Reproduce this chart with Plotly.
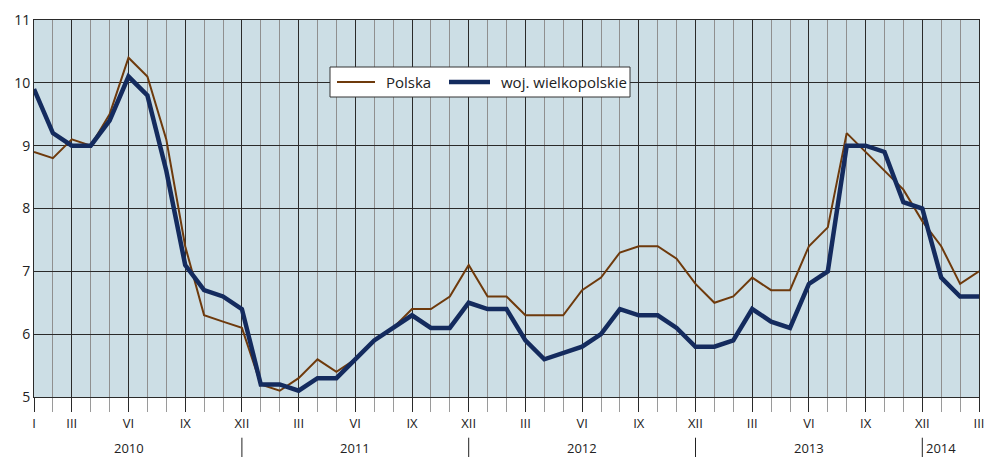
import plotly.graph_objects as go

months = list(range(51))  # I 2010 .. III 2014

polska = [8.9, 8.8, 9.1, 9.0, 9.5, 10.4, 10.1, 9.1, 7.4, 6.3, 6.2, 6.1,
          5.2, 5.1, 5.3, 5.6, 5.4, 5.6, 5.9, 6.1, 6.4, 6.4, 6.6, 7.1,
          6.6, 6.6, 6.3, 6.3, 6.3, 6.7, 6.9, 7.3, 7.4, 7.4, 7.2, 6.8,
          6.5, 6.6, 6.9, 6.7, 6.7, 7.4, 7.7, 9.2, 8.9, 8.6, 8.3, 7.8,
          7.4, 6.8, 7.0]

wielkopolskie = [9.9, 9.2, 9.0, 9.0, 9.4, 10.1, 9.8, 8.6, 7.1, 6.7, 6.6, 6.4,
                 5.2, 5.2, 5.1, 5.3, 5.3, 5.6, 5.9, 6.1, 6.3, 6.1, 6.1, 6.5,
                 6.4, 6.4, 5.9, 5.6, 5.7, 5.8, 6.0, 6.4, 6.3, 6.3, 6.1, 5.8,
                 5.8, 5.9, 6.4, 6.2, 6.1, 6.8, 7.0, 9.0, 9.0, 8.9, 8.1, 8.0,
                 6.9, 6.6, 6.6]

tick_vals = [0, 2, 5, 8, 11, 14, 17, 20, 23, 26, 29, 32, 35, 38, 41, 44, 47, 50]
tick_text = ["I", "III", "VI", "IX", "XII", "III", "VI", "IX", "XII",
             "III", "VI", "IX", "XII", "III", "VI", "IX", "XII", "III"]

years = ["2010", "2011", "2012", "2013", "2014"]
year_pos = [5, 17, 29, 41, 48]
year_breaks = [11, 23, 35, 47]

series_names = ["Polska", "woj. wielkopolskie"]
BROWN = "#6E3A0C"
NAVY = "#142B5E"
FONT = "Open Sans"

fig = go.Figure()
fig.add_trace(go.Scatter(x=months, y=polska, mode="lines", name=series_names[0],
                         line=dict(color=BROWN, width=2)))
fig.add_trace(go.Scatter(x=months, y=wielkopolskie, mode="lines", name=series_names[1],
                         line=dict(color=NAVY, width=4.5)))

shapes = []
for b in year_breaks:
    shapes.append(dict(type="line", xref="x", yref="paper", x0=b, x1=b,
                       y0=-0.108, y1=-0.165, line=dict(color="#222", width=1)))

annotations = []
for y, p in zip(years, year_pos):
    annotations.append(dict(text=y, x=p, y=-0.135, xref="x", yref="paper",
                            showarrow=False, yanchor="middle",
                            font=dict(family=FONT, size=13, color="#222")))

# legend box (drawn manually to match the reference spacing)
W, H, L, B = 945.0, 377.0, 34.0, 397.0
def px(x):
    return (x - L) / W
def py(y):
    return (B - y) / H

shapes.append(dict(type="rect", xref="paper", yref="paper",
                   x0=px(330), x1=px(630), y0=py(97), y1=py(67),
                   fillcolor="white", line=dict(color="#333", width=1), layer="above"))
shapes.append(dict(type="line", xref="paper", yref="paper",
                   x0=px(337), x1=px(375), y0=py(82), y1=py(82),
                   line=dict(color=BROWN, width=2), layer="above"))
shapes.append(dict(type="line", xref="paper", yref="paper",
                   x0=px(449), x1=px(490), y0=py(82), y1=py(82),
                   line=dict(color=NAVY, width=4.5), layer="above"))
annotations.append(dict(text=series_names[0], xref="paper", yref="paper",
                        x=px(384), y=py(82), xanchor="left", yanchor="middle",
                        showarrow=False, font=dict(family=FONT, size=15, color="#222")))
annotations.append(dict(text=series_names[1], xref="paper", yref="paper",
                        x=px(499), y=py(82), xanchor="left", yanchor="middle",
                        showarrow=False, font=dict(family=FONT, size=15, color="#222")))

fig.update_layout(
    width=989, height=457,
    margin=dict(l=34, r=10, t=20, b=60, autoexpand=False),
    paper_bgcolor="white",
    plot_bgcolor="#CCDEE5",
    font=dict(family=FONT, size=13, color="#222"),
    showlegend=False,
    shapes=shapes,
    annotations=annotations,
)

fig.update_xaxes(range=[0, 50], tickmode="array", tickvals=tick_vals, ticktext=tick_text,
                 automargin=False,
                 showgrid=True, gridcolor="#2a2a2a", gridwidth=1,
                 ticks="outside", ticklen=14, tickcolor="#2a2a2a", tickwidth=1,
                 minor=dict(dtick=1, tick0=0, showgrid=True, gridcolor="#8f8f8f", gridwidth=1,
                            ticks="outside", ticklen=14, tickcolor="#9a9a9a"),
                 showline=True, linecolor="#2a2a2a", linewidth=1, mirror=True,
                 zeroline=False, tickfont=dict(size=13))
fig.update_yaxes(range=[5, 11], dtick=1, automargin=False,
                 showgrid=True, gridcolor="#2a2a2a", gridwidth=1,
                 showline=True, linecolor="#2a2a2a", linewidth=1, mirror=True,
                 zeroline=False, ticks="", tickfont=dict(size=14))

fig.write_html("out.html", config={"displayModeBar": False},
               post_script="document.body.style.margin='0px';document.body.style.overflow='hidden';")
